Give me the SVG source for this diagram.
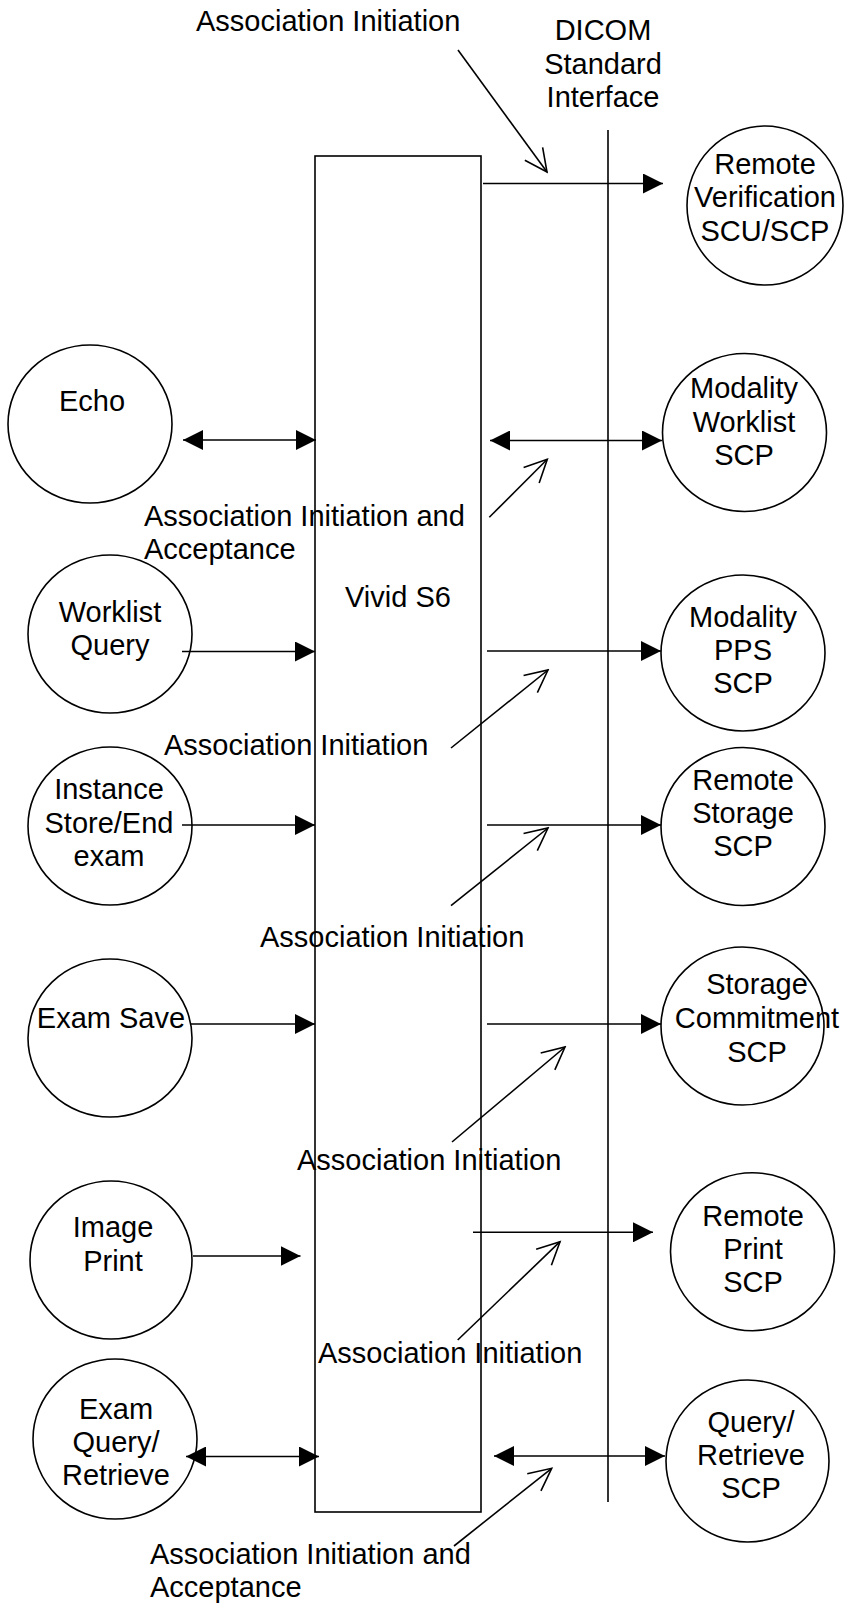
<svg xmlns="http://www.w3.org/2000/svg" width="844" height="1606" viewBox="0 0 844 1606">
<style>
text{font-family:"Liberation Sans",Arial,sans-serif;font-size:29px;fill:#000}
.c{text-anchor:middle}
.n{fill:none;stroke:#000;stroke-width:1.6}
.l{fill:none;stroke:#000;stroke-width:1.6}
.a{marker-end:url(#tri)}
.d{marker-start:url(#tri);marker-end:url(#tri)}
.o{marker-end:url(#open)}
</style>
<defs>
<marker id="tri" markerUnits="userSpaceOnUse" viewBox="0 0 20 20" markerWidth="20" markerHeight="20" refX="20" refY="10" orient="auto-start-reverse">
<path d="M0,0 L20,10 L0,20 Z" fill="#000"/>
</marker>
<marker id="open" markerUnits="userSpaceOnUse" viewBox="-25 -13 27 26" markerWidth="27" markerHeight="26" refX="0" refY="0" orient="auto">
<path d="M-22.5,-11 L0,0 L-22.5,11" fill="none" stroke="#000" stroke-width="1.6"/>
</marker>
</defs>
<rect width="844" height="1606" fill="#fff"/>

<g id="vivid-s6">
<rect class="n" x="315" y="156" width="166" height="1356"/>
<text x="345" y="606.7">Vivid S6</text>
</g>

<g id="dicom-interface">
<line class="l" x1="608" y1="130" x2="608" y2="1502"/>
<text class="c" x="603" y="40">DICOM</text>
<text class="c" x="603" y="73.5">Standard</text>
<text class="c" x="603" y="106.5">Interface</text>
</g>

<g id="echo">
<ellipse class="n" cx="90" cy="424" rx="82" ry="79"/>
<text class="c" x="92" y="410.7">Echo</text>
</g>
<g id="worklist-query">
<ellipse class="n" cx="110" cy="634" rx="82" ry="79"/>
<text class="c" x="110" y="621.7">Worklist</text>
<text class="c" x="110" y="655">Query</text>
</g>
<g id="instance-store">
<ellipse class="n" cx="110" cy="826" rx="82" ry="79"/>
<text class="c" x="109" y="799">Instance</text>
<text class="c" x="109" y="832.7">Store/End</text>
<text class="c" x="109" y="866">exam</text>
</g>
<g id="exam-save">
<ellipse class="n" cx="110" cy="1038" rx="82" ry="79"/>
<text class="c" x="111" y="1028">Exam Save</text>
</g>
<g id="image-print">
<ellipse class="n" cx="111" cy="1260" rx="81" ry="79"/>
<text class="c" x="113" y="1237">Image</text>
<text class="c" x="113" y="1270.5">Print</text>
</g>
<g id="exam-query-retrieve">
<ellipse class="n" cx="115" cy="1439" rx="82" ry="80"/>
<text class="c" x="116" y="1419">Exam</text>
<text class="c" x="116" y="1452">Query/</text>
<text class="c" x="116" y="1485">Retrieve</text>
</g>

<g id="remote-verification">
<ellipse class="n" cx="765" cy="205.5" rx="78" ry="79.5"/>
<text class="c" x="765" y="174">Remote</text>
<text class="c" x="765" y="207.3">Verification</text>
<text class="c" x="765" y="240.7">SCU/SCP</text>
</g>
<g id="modality-worklist">
<ellipse class="n" cx="744.5" cy="432.5" rx="82" ry="79"/>
<text class="c" x="744" y="398">Modality</text>
<text class="c" x="744" y="432">Worklist</text>
<text class="c" x="744" y="465">SCP</text>
</g>
<g id="modality-pps">
<ellipse class="n" cx="743" cy="653" rx="82" ry="78"/>
<text class="c" x="743" y="626.7">Modality</text>
<text class="c" x="743" y="660">PPS</text>
<text class="c" x="743" y="693">SCP</text>
</g>
<g id="remote-storage">
<ellipse class="n" cx="743" cy="826.5" rx="82" ry="79"/>
<text class="c" x="743" y="790">Remote</text>
<text class="c" x="743" y="823">Storage</text>
<text class="c" x="743" y="856">SCP</text>
</g>
<g id="storage-commitment">
<ellipse class="n" cx="742.5" cy="1026" rx="81.5" ry="79"/>
<text class="c" x="757" y="994">Storage</text>
<text class="c" x="757" y="1028">Commitment</text>
<text class="c" x="757" y="1061.7">SCP</text>
</g>
<g id="remote-print">
<ellipse class="n" cx="752.5" cy="1251.7" rx="82" ry="79"/>
<text class="c" x="753" y="1226">Remote</text>
<text class="c" x="753" y="1259">Print</text>
<text class="c" x="753" y="1292">SCP</text>
</g>
<g id="query-retrieve-scp">
<ellipse class="n" cx="747.5" cy="1461" rx="81.5" ry="81"/>
<text class="c" x="751" y="1432">Query/</text>
<text class="c" x="751" y="1465">Retrieve</text>
<text class="c" x="751" y="1498">SCP</text>
</g>

<g id="connectors">
<line class="l a" x1="483" y1="183.5" x2="663" y2="183.5"/>
<line class="l d" x1="183" y1="440" x2="316" y2="440"/>
<line class="l d" x1="490" y1="440.5" x2="662" y2="440.5"/>
<line class="l a" x1="182" y1="651.5" x2="315" y2="651.5"/>
<line class="l a" x1="487" y1="651" x2="661" y2="651"/>
<line class="l a" x1="182" y1="825" x2="315" y2="825"/>
<line class="l a" x1="487" y1="825" x2="661" y2="825"/>
<line class="l a" x1="191" y1="1024" x2="315" y2="1024"/>
<line class="l a" x1="487" y1="1024" x2="661" y2="1024"/>
<line class="l a" x1="193" y1="1256" x2="300.5" y2="1256"/>
<line class="l a" x1="473" y1="1232.3" x2="653" y2="1232.3"/>
<line class="l d" x1="186" y1="1456.5" x2="319" y2="1456.5"/>
<line class="l d" x1="494" y1="1456" x2="665" y2="1456"/>

<line class="l o" x1="458" y1="50" x2="547" y2="172"/>
<line class="l o" x1="489.3" y1="517.3" x2="547.3" y2="459.3"/>
<line class="l o" x1="451" y1="748" x2="548" y2="670"/>
<line class="l o" x1="451" y1="905.7" x2="548" y2="828"/>
<line class="l o" x1="452" y1="1142" x2="565" y2="1047"/>
<line class="l o" x1="457.7" y1="1340" x2="560" y2="1241.7"/>
<line class="l o" x1="454" y1="1546" x2="551.7" y2="1468.3"/>
</g>

<g id="labels">
<text x="196" y="31">Association Initiation</text>
<text x="144" y="525.5">Association Initiation and</text>
<text x="144" y="559">Acceptance</text>
<text x="164" y="755">Association Initiation</text>
<text x="260" y="947">Association Initiation</text>
<text x="297" y="1170">Association Initiation</text>
<text x="318" y="1363">Association Initiation</text>
<text x="150" y="1564">Association Initiation and</text>
<text x="150" y="1597">Acceptance</text>
</g>
</svg>
